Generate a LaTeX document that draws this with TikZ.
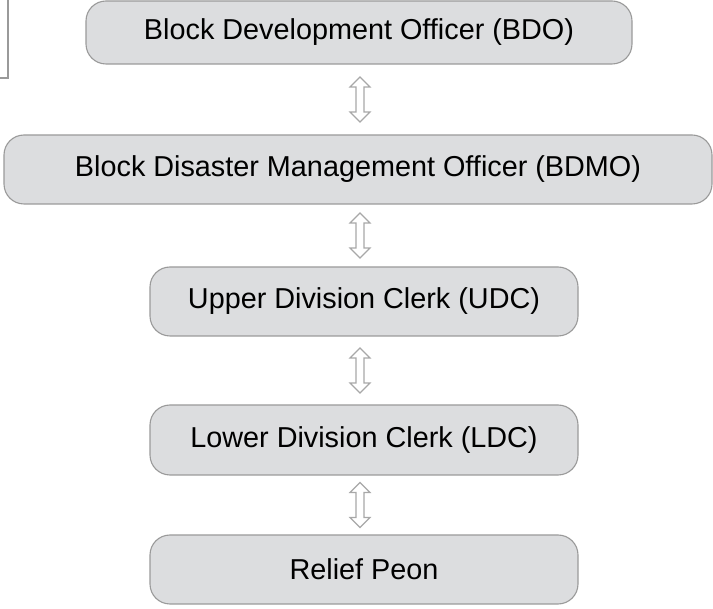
\documentclass[tikz,border=0pt]{standalone}
\usepackage{fontspec}
\setmainfont{Liberation Sans}
\usetikzlibrary{calc}
\definecolor{boxfill}{HTML}{DCDDDF}
\definecolor{boxline}{HTML}{9A9A9A}
\definecolor{arrline}{HTML}{A8A8A8}
\tikzset{
  rolebox/.style={draw=boxline, fill=boxfill, line width=1.1pt, rounded corners=20pt,
    inner sep=0pt, font=\fontsize{28.8}{32}\selectfont, text=black},
  dblarr/.pic={
    \draw[arrline, fill=white, line width=1.1pt, line join=miter]
      (0,-22.5) -- (10,-12.5) -- (4,-12.5) -- (4,12.5) -- (10,12.5) -- (0,22.5)
      -- (-10,12.5) -- (-4,12.5) -- (-4,-12.5) -- (-10,-12.5) -- cycle;
  }
}
\begin{document}
\begin{tikzpicture}[x=1pt,y=-1pt]
\useasboundingbox (0,0) rectangle (713,609);
% partial box at top-left
\draw[boxline, line width=1.1pt] (-2,78) -- (8,78) -- (8,-2);
\node[rolebox, minimum width=546pt, minimum height=63pt] (bdo) at (359,32.5) {\raisebox{-2pt}{Block Development Officer (BDO)}};
\node[rolebox, minimum width=708pt, minimum height=69pt] (bdmo) at (358,169.5) {Block Disaster Management Officer (BDMO)};
\node[rolebox, minimum width=428pt, minimum height=69pt] (udc) at (364,301.5) {Upper Division Clerk (UDC)};
\node[rolebox, minimum width=428pt, minimum height=70pt] (ldc) at (364,440) {Lower Division Clerk (LDC)};
\node[rolebox, minimum width=428pt, minimum height=69pt] (peon) at (364,569.5) {Relief Peon};
\coordinate (a1) at ($(bdo.south)!.5!(bdmo.north)$);
\coordinate (a2) at ($(bdmo.south)!.5!(udc.north)$);
\coordinate (a3) at ($(udc.south)!.5!(ldc.north)$);
\coordinate (a4) at ($(ldc.south)!.5!(peon.north)$);
\pic at (a1 -| 360,0) {dblarr};
\pic at (a2 -| 360,0) {dblarr};
\pic at (a3 -| 360,0) {dblarr};
\pic at (a4 -| 360,0) {dblarr};
\end{tikzpicture}
\end{document}
